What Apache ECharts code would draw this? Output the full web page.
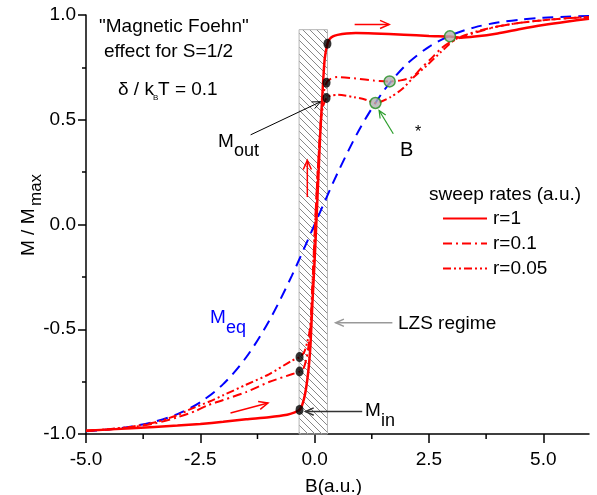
<!DOCTYPE html>
<html>
<head>
<meta charset="utf-8">
<script src="https://cdn.jsdelivr.net/npm/echarts@6/dist/echarts.min.js"></script>
<style>
html, body { margin: 0; padding: 0; background: #fff; }
#chart { width: 597px; height: 495px; }
</style>
</head>
<body>
<div id="chart"></div>
<script>
// Equilibrium magnetisation M_eq(B)
const meqB = [-5, -4.5, -4, -3.5, -3, -2.5, -2, -1.5, -1, -0.5, 0, 0.5, 1, 1.5, 2, 2.5, 3, 3.5, 4, 4.5, 5, 5.5, 6];
const meqM = [-0.987, -0.978, -0.964, -0.941, -0.905, -0.848, -0.762, -0.635, -0.462, -0.245, 0, 0.245, 0.462, 0.635, 0.762, 0.848, 0.905, 0.941, 0.964, 0.978, 0.987, 0.992, 0.995];

// Sweep rate r = 1
const r1B = [-5, -4, -3, -2.5, -2, -1.5, -1, -0.6, -0.45, -0.33, -0.27, -0.21, -0.16, -0.12, -0.09, -0.05, 0, 0.06, 0.12, 0.17, 0.22, 0.28, 0.33, 0.4, 0.5, 0.7, 0.9, 1.3, 1.95, 2.5, 2.96, 3.2, 3.5, 4, 4.5, 5, 5.5, 6];
const r1M = [-0.985, -0.972, -0.96, -0.952, -0.942, -0.93, -0.92, -0.908, -0.898, -0.885, -0.86, -0.81, -0.74, -0.66, -0.57, -0.38, -0.17, 0.12, 0.42, 0.62, 0.79, 0.863, 0.885, 0.898, 0.905, 0.912, 0.914, 0.912, 0.906, 0.9, 0.897, 0.892, 0.897, 0.912, 0.933, 0.952, 0.968, 0.982];

// Sweep rate r = 0.1
const r01B = [-5, -4.5, -4, -3.5, -3, -2.6, -2.35, -2, -1.5, -1, -0.5, -0.33, -0.25, -0.18, -0.12, -0.09, -0.04, 0.02, 0.08, 0.14, 0.19, 0.26, 0.35, 0.5, 0.9, 1.3, 1.64, 1.88, 2.14, 2.32, 2.54, 2.76, 2.97, 3.2, 3.5, 4, 4.5, 5, 5.5, 6];
const r01M = [-0.985, -0.978, -0.967, -0.95, -0.92, -0.89, -0.864, -0.838, -0.8, -0.752, -0.715, -0.702, -0.69, -0.64, -0.56, -0.5, -0.25, 0.05, 0.3, 0.5, 0.62, 0.677, 0.695, 0.704, 0.697, 0.687, 0.683, 0.688, 0.704, 0.744, 0.79, 0.839, 0.871, 0.892, 0.915, 0.945, 0.963, 0.975, 0.984, 0.99];

// Sweep rate r = 0.05
const r005B = [-5, -4.5, -4, -3.5, -3, -2.7, -2.3, -2, -1.5, -1, -0.5, -0.33, -0.23, -0.16, -0.12, -0.09, -0.04, 0.02, 0.08, 0.13, 0.18, 0.26, 0.35, 0.5, 0.86, 1.1, 1.33, 1.66, 1.92, 2.17, 2.46, 2.76, 3.05, 3.3, 3.6, 4, 4.5, 5, 5.5, 6];
const r005M = [-0.985, -0.977, -0.965, -0.945, -0.91, -0.88, -0.845, -0.815, -0.765, -0.715, -0.65, -0.633, -0.61, -0.56, -0.52, -0.48, -0.25, 0.05, 0.3, 0.48, 0.56, 0.604, 0.615, 0.619, 0.608, 0.597, 0.58, 0.608, 0.648, 0.704, 0.76, 0.823, 0.88, 0.905, 0.925, 0.945, 0.963, 0.975, 0.984, 0.99];

// M_in / M_out switching points
const switchB = [-0.33, -0.33, -0.33, 0.28, 0.26, 0.26];
const switchM = [-0.885, -0.702, -0.633, 0.863, 0.677, 0.604];

// B* crossing points with M_eq
const crossB = [2.96, 1.64, 1.33];
const crossM = [0.898, 0.683, 0.58];

// LZS regime band
const lzsB = [-0.34, 0.28];
const lzsTop = 0.93;

const xTicks = [-5, -2.5, 0, 2.5, 5];
const xMinorTicks = [-3.75, -1.25, 1.25, 3.75];
const seriesNames = ['r=1', 'r=0.1', 'r=0.05'];

const zip = (a, b) => a.map((v, i) => [v, b[i]]);
const FONT = "'Liberation Sans', Arial, sans-serif";
const RED = '#ff0000';

function hatchPattern() {
  const c = document.createElement('canvas');
  c.width = 7; c.height = 7;
  const g = c.getContext('2d');
  g.strokeStyle = '#888888';
  g.lineWidth = 1;
  g.beginPath();
  g.moveTo(-1, -1); g.lineTo(8, 8);
  g.moveTo(-1, 6); g.lineTo(1, 8);
  g.moveTo(6, -1); g.lineTo(8, 1);
  g.stroke();
  return c;
}

const chart = echarts.init(document.getElementById('chart'), null, { renderer: 'canvas' });

const axisLineStyle = { color: '#000', width: 1.5 };
const labelStyle = { color: '#000', fontSize: 19, fontFamily: FONT };

chart.setOption({
  animation: false,
  backgroundColor: '#fff',
  grid: { left: 86, right: 8, top: 15, bottom: 61 },
  xAxis: {
    type: 'value', min: -5, max: 6, interval: 2.5, position: 'bottom',
    axisLine: { show: true, onZero: false, lineStyle: axisLineStyle },
    axisTick: { show: true, inside: false, length: 9, customValues: xTicks, lineStyle: axisLineStyle },
    axisLabel: { customValues: xTicks, margin: 16, formatter: v => v.toFixed(1), ...labelStyle },
    splitLine: { show: false }
  },
  yAxis: {
    type: 'value', min: -1, max: 1, interval: 0.5,
    axisLine: { show: true, onZero: false, lineStyle: axisLineStyle },
    axisTick: { show: true, inside: false, length: 8, lineStyle: axisLineStyle },
    minorTick: { show: true, splitNumber: 2, length: 4, lineStyle: axisLineStyle },
    axisLabel: { margin: 10, formatter: v => v.toFixed(1), ...labelStyle },
    splitLine: { show: false }
  },
  legend: {
    data: seriesNames,
    orient: 'vertical',
    left: 437, top: 204,
    itemWidth: 44, itemHeight: 14, itemGap: 6,
    itemStyle: { opacity: 0 },
    textStyle: { fontSize: 19, fontFamily: FONT, color: '#000', padding: [0, 0, 0, 1] },
    selectedMode: false
  },
  series: [
    {
      name: 'LZS', type: 'line', data: [], z: 1, silent: true,
      markArea: {
        silent: true,
        itemStyle: { color: { image: hatchPattern(), repeat: 'repeat' }, borderColor: '#b5b5b5', borderWidth: 1 },
        data: [[{ coord: [lzsB[0], -1] }, { coord: [lzsB[1], lzsTop] }]]
      }
    },
    {
      name: 'Meq', type: 'line', data: zip(meqB, meqM), smooth: 0.3, symbol: 'none', z: 3,
      lineStyle: { color: '#0000ff', width: 2, type: [11, 7] }
    },
    {
      name: 'r=1', type: 'line', data: zip(r1B, r1M), smooth: 0.25, symbol: 'none', z: 4,
      itemStyle: { color: RED },
      lineStyle: { color: RED, width: 2.5, type: 'solid' }
    },
    {
      name: 'r=0.1', type: 'line', data: zip(r01B, r01M), smooth: 0.25, symbol: 'none', z: 4,
      itemStyle: { color: RED },
      lineStyle: { color: RED, width: 2, type: [9, 4, 2, 4] }
    },
    {
      name: 'r=0.05', type: 'line', data: zip(r005B, r005M), smooth: 0.25, symbol: 'none', z: 4,
      itemStyle: { color: RED },
      lineStyle: { color: RED, width: 2, type: [8, 3, 2, 3, 2, 3] }
    },
    {
      name: 'switch', type: 'scatter', data: zip(switchB, switchM), z: 6,
      symbol: 'circle', symbolSize: [8, 10],
      itemStyle: { color: '#000' }
    },
    {
      name: 'cross', type: 'scatter', data: zip(crossB, crossM), z: 6,
      symbol: 'circle', symbolSize: 11,
      itemStyle: { color: '#b0b0b0', borderColor: '#1f8f1f', borderWidth: 1.5 }
    }
  ]
});

// Annotation arrows, anchored in data coordinates
const toPx = p => chart.convertToPixel({ xAxisIndex: 0, yAxisIndex: 0 }, p);
function arrow(from, to, color, w, head) {
  const a = toPx(from), b = toPx(to);
  const ang = Math.atan2(b[1] - a[1], b[0] - a[0]);
  const s = 0.42;
  const h1 = [b[0] - head * Math.cos(ang - s), b[1] - head * Math.sin(ang - s)];
  const h2 = [b[0] - head * Math.cos(ang + s), b[1] - head * Math.sin(ang + s)];
  return [
    { type: 'line', z: 20, shape: { x1: a[0], y1: a[1], x2: b[0], y2: b[1] }, style: { stroke: color, lineWidth: w } },
    { type: 'polyline', z: 20, shape: { points: [h1, b, h2] }, style: { stroke: color, lineWidth: w, fill: null } }
  ];
}
function txt(x, y, text, size, color, extra) {
  return Object.assign({
    type: 'text', x: x, y: y, z: 20,
    style: { text: text, fontSize: size, fontFamily: FONT, fill: color || '#000', align: 'left', verticalAlign: 'middle' }
  }, extra || {});
}
// Minor ticks on the B axis (no minor tick in the last, partial interval)
const minorTicks = xMinorTicks.map(v => {
  const p = toPx([v, -1]);
  return { type: 'line', z: 20, shape: { x1: p[0], y1: p[1], x2: p[0], y2: p[1] + 5 }, style: { stroke: '#000', lineWidth: 1.5 } };
});

const graphics = [].concat(
  minorTicks,
  arrow([-1.84, -0.9], [-1.02, -0.852], RED, 1.5, 10),
  arrow([0.875, 0.955], [1.63, 0.955], RED, 1.5, 10),
  arrow([-0.16, 0.131], [-0.16, 0.306], RED, 1.5, 10),
  arrow([-1.4, 0.428], [0.13, 0.586], '#000', 1, 9),
  arrow([1.04, -0.893], [-0.2, -0.893], '#333', 1.5, 9),
  arrow([1.7, -0.469], [0.46, -0.469], '#999', 1.5, 9),
  arrow([1.72, 0.433], [1.41, 0.544], '#2a9d2a', 1.2, 8),
  [
    txt(99, 27, '"Magnetic Foehn"', 19),
    txt(104, 52, 'effect for S=1/2', 19),
    txt(118, 90, 'δ / k', 19),
    txt(153, 98, 'B', 8),
    txt(158, 90, 'T = 0.1', 19),
    txt(218, 142, 'M', 19),
    txt(234, 151, 'out', 18),
    txt(365, 411, 'M', 19),
    txt(381, 421, 'in', 18),
    txt(210, 318, 'M', 19, '#0000ff'),
    txt(226, 328, 'eq', 18, '#0000ff'),
    txt(400, 150, 'B', 20),
    txt(415, 133, '*', 16),
    txt(398, 324, 'LZS regime', 19),
    txt(429, 195, 'sweep rates (a.u.)', 19),
    txt(305, 487, 'B(a.u.)', 19),
    {
      type: 'group', x: 29, y: 212, rotation: Math.PI / 2, z: 20,
      children: [
        txt(-44, 0, 'M / M', 19),
        txt(6, 7, 'max', 17)
      ]
    }
  ]
);

chart.setOption({ graphic: graphics });
</script>
</body>
</html>
